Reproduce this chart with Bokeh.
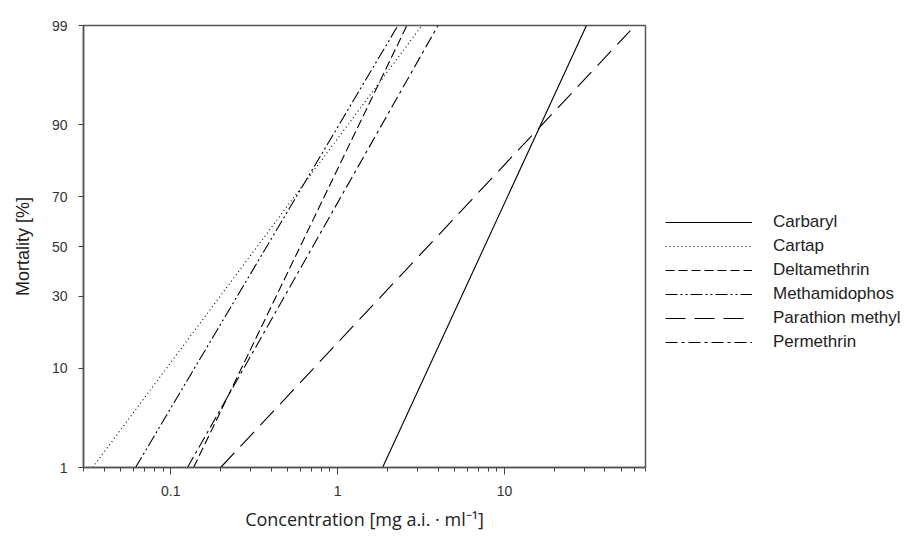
from statistics import NormalDist
from bokeh.plotting import figure
from bokeh.models import Range1d, FixedTicker, Legend, LegendItem, CustomJSTickFormatter
from bokeh.embed import file_html
from bokeh.resources import INLINE

# ---- data ----
series_names = ["Carbaryl", "Cartap", "Deltamethrin", "Methamidophos",
                "Parathion methyl", "Permethrin"]
carbaryl_conc = [1.86, 31.0]
carbaryl_mort = [1, 99]
cartap_conc = [0.034, 3.2]
cartap_mort = [1, 99]
deltamethrin_conc = [0.137, 2.6]
deltamethrin_mort = [1, 99]
methamidophos_conc = [0.0615, 2.3]
methamidophos_mort = [1, 99]
parathion_conc = [0.199, 56.8]
parathion_mort = [1, 98.85]
permethrin_conc = [0.126, 4.0]
permethrin_mort = [1, 99]

y_tick_pct = [1, 10, 30, 50, 70, 90, 99]
x_major = [0.1, 1, 10]
x_minor = [0.03, 0.04, 0.05, 0.06, 0.07, 0.08, 0.09,
           0.2, 0.3, 0.4, 0.5, 0.6, 0.7, 0.8, 0.9,
           2, 3, 4, 5, 6, 7, 8, 9,
           20, 30, 40, 50, 60, 70]
x_min, x_max = 0.03, 70

nd = NormalDist()
def probit(pcts):
    return [nd.inv_cdf(p / 100.0) for p in pcts]

p = figure(frame_width=562, frame_height=442, x_axis_type="log",
           x_range=Range1d(x_min, x_max),
           y_range=Range1d(probit([1])[0], probit([99])[0]),
           output_backend="svg", toolbar_location=None,
           min_border_left=83, min_border_top=25, min_border_right=240,
           min_border_bottom=65, background_fill_color="white",
           border_fill_color="white")
p.xgrid.visible = False
p.ygrid.visible = False
p.outline_line_color = "#555555"
p.outline_line_width = 1.5

styles = [
    (carbaryl_conc, carbaryl_mort, "solid"),
    (cartap_conc, cartap_mort, "1 3"),
    (deltamethrin_conc, deltamethrin_mort, "9 4"),
    (methamidophos_conc, methamidophos_mort, "12 3 2 3 2 3"),
    (parathion_conc, parathion_mort, "20 9"),
    (permethrin_conc, permethrin_mort, "12 4 3 4"),
]
items = []
for name, (xs, ys, dash) in zip(series_names, styles):
    r = p.line(xs, probit(ys), line_color="black", line_width=1.1, line_dash=dash)
    items.append(LegendItem(label=name, renderers=[r]))

legend = Legend(items=items, location=(20, 115), glyph_width=87, glyph_height=20,
                label_height=20, spacing=4, label_standoff=21, padding=0, margin=0,
                border_line_color=None, background_fill_alpha=0,
                label_text_font="Liberation Sans", label_text_font_size="17px",
                label_text_color="#222222")
p.add_layout(legend, "right")

# y axis (probit scale)
yt = probit(y_tick_pct)
p.yaxis.ticker = FixedTicker(ticks=yt, minor_ticks=[])
p.yaxis.major_label_overrides = {t: str(v) for t, v in zip(yt, y_tick_pct)}
p.yaxis.axis_label = "Mortality [%]"
# x axis (log scale)
p.xaxis.ticker = FixedTicker(ticks=x_major, minor_ticks=x_minor)
p.xaxis.formatter = CustomJSTickFormatter(code="return String(tick)")
p.xaxis.axis_label = "Concentration [mg a.i. \u00b7 ml\u207b\u00b9]"

for ax in (p.xaxis[0], p.yaxis[0]):
    ax.axis_line_color = "#555555"
    ax.axis_line_width = 1.5
    ax.major_tick_line_color = "#444444"
    ax.minor_tick_line_color = "#444444"
    ax.major_tick_in = 0
    ax.minor_tick_in = 0
    ax.major_label_text_font = "Liberation Sans"
    ax.major_label_text_font_size = "14px"
    ax.major_label_text_color = "#333333"
    ax.axis_label_text_font_style = "normal"
    ax.axis_label_text_color = "#222222"
    ax.major_label_standoff = 11

p.yaxis.major_tick_out = 5
p.yaxis.axis_label_text_font = "Liberation Sans"
p.yaxis.axis_label_text_font_size = "18px"
p.yaxis.axis_label_standoff = 16
p.xaxis.major_tick_out = 7
p.xaxis.minor_tick_out = 4
p.xaxis.axis_label_text_font = "Open Sans"
p.xaxis.axis_label_text_font_size = "18px"
p.xaxis.axis_label_standoff = 8

open("out.html", "w").write(file_html(p, INLINE))
